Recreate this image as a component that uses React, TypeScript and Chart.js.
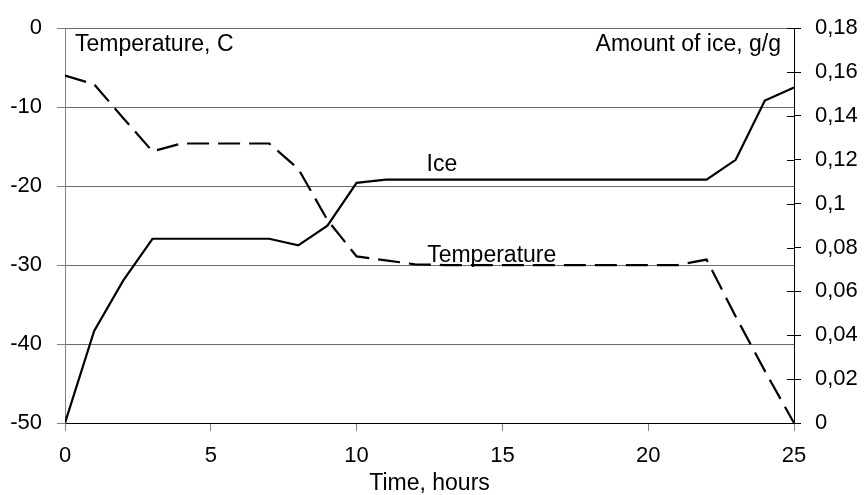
import React, { useEffect, useRef } from "react";
import { Chart, registerables } from "chart.js";

Chart.register(...registerables);

const hours = [0, 1, 2, 3, 4, 5, 6, 7, 8, 9, 10, 11, 12, 13, 14, 15, 16, 17, 18, 19, 20, 21, 22, 23, 24, 25];
const temperature = [-6, -7.1, -11.4, -15.6, -14.6, -14.6, -14.6, -14.6, -17.8, -24.3, -28.9, -29.4, -29.9, -30, -30, -30, -30, -30, -30, -30, -30, -30, -29.3, -36.5, -43.4, -50];
const ice = [0, 0.042, 0.065, 0.084, 0.084, 0.084, 0.084, 0.084, 0.081, 0.09, 0.1095, 0.111, 0.111, 0.111, 0.111, 0.111, 0.111, 0.111, 0.111, 0.111, 0.111, 0.111, 0.111, 0.12, 0.147, 0.153];

const leftTitle = "Temperature, C";
const rightTitle = "Amount of ice, g/g";
const xTitle = "Time, hours";
const iceLabel = "Ice";
const tempLabel = "Temperature";

const FONT = "'Liberation Sans', Arial, sans-serif";

const fmt = (v: number) => parseFloat(Number(v).toFixed(2)).toString().replace(".", ",");

const annotPlugin = {
  id: "annot",
  afterDraw(chart: any) {
    const { ctx, chartArea, scales } = chart;
    const x = scales.x;
    const yT = scales.y;
    const y1 = scales.y1;
    ctx.save();
    // inner half of right axis ticks
    ctx.strokeStyle = "#000";
    ctx.lineWidth = 1;
    y1.ticks.forEach((t: any) => {
      const py = Math.round(y1.getPixelForValue(t.value)) + 0.5;
      ctx.beginPath();
      ctx.moveTo(chartArea.right - 7, py);
      ctx.lineTo(chartArea.right, py);
      ctx.stroke();
    });
    ctx.fillStyle = "#000";
    ctx.font = `23px ${FONT}`;
    ctx.textBaseline = "alphabetic";
    ctx.textAlign = "left";
    ctx.fillText(leftTitle, chartArea.left + 10, chartArea.top + 23);
    ctx.textAlign = "right";
    ctx.fillText(rightTitle, chartArea.right - 13, chartArea.top + 23);
    ctx.textAlign = "left";
    ctx.fillText(iceLabel, x.getPixelForValue(12.4), yT.getPixelForValue(-18.1));
    ctx.fillText(tempLabel, x.getPixelForValue(12.42), yT.getPixelForValue(-29.6));
    ctx.restore();
  },
};

export default function App() {
  const ref = useRef<HTMLCanvasElement | null>(null);
  useEffect(() => {
    document.body.style.margin = "0";
    const canvas = ref.current!;
    const chart = new Chart(canvas, {
      type: "line",
      data: {
        labels: hours,
        datasets: [
          {
            label: "Temperature",
            data: hours.map((h, i) => ({ x: h, y: temperature[i] })),
            yAxisID: "y",
            borderColor: "#000",
            borderWidth: 2.2,
            borderDash: [22, 9],
            pointRadius: 0,
            tension: 0,
            fill: false,
          },
          {
            label: "Ice",
            data: hours.map((h, i) => ({ x: h, y: ice[i] })),
            yAxisID: "y1",
            borderColor: "#000",
            borderWidth: 2.2,
            pointRadius: 0,
            tension: 0,
            fill: false,
          },
        ],
      },
      options: {
        responsive: false,
        animation: false,
        devicePixelRatio: 1,
        layout: { padding: { top: 20, left: 0, right: 0, bottom: 0 } },
        plugins: { legend: { display: false }, tooltip: { enabled: false } },
        scales: {
          x: {
            type: "linear",
            min: 0,
            max: 25,
            afterFit: (s: any) => { s.height = 72; },
            ticks: { stepSize: 5, color: "#000", padding: 12, font: { family: FONT, size: 22 } },
            grid: { drawOnChartArea: false, tickLength: 8, tickColor: "#808080" },
            border: { color: "#000", width: 1 },
            title: { display: true, text: xTitle, color: "#000", font: { family: FONT, size: 23 }, padding: { top: 0, bottom: -2 } },
          },
          y: {
            position: "left",
            min: -50,
            max: 0,
            afterFit: (s: any) => { s.width = 65; },
            ticks: { stepSize: 10, color: "#000", padding: 15, font: { family: FONT, size: 22 } },
            grid: {
              color: (c: any) => (c.tick && c.tick.value === -50 ? "rgba(0,0,0,0)" : "#6a6a6a"),
              tickColor: "#808080",
              tickLength: 8,
              lineWidth: 1,
            },
            border: { color: "#808080", width: 1 },
          },
          y1: {
            position: "right",
            min: 0,
            max: 0.18,
            afterFit: (s: any) => { s.width = 70; },
            ticks: { stepSize: 0.02, color: "#000", padding: 14, font: { family: FONT, size: 22 }, callback: (v: any) => fmt(v) },
            grid: { drawOnChartArea: false, tickLength: 7, tickColor: "#000" },
            border: { color: "#000", width: 1 },
          },
        },
      },
      plugins: [annotPlugin],
    } as any);
    return () => chart.destroy();
  }, []);
  return <canvas ref={ref} width={864} height={495} style={{ display: "block", width: 864, height: 495 }} />;
}
